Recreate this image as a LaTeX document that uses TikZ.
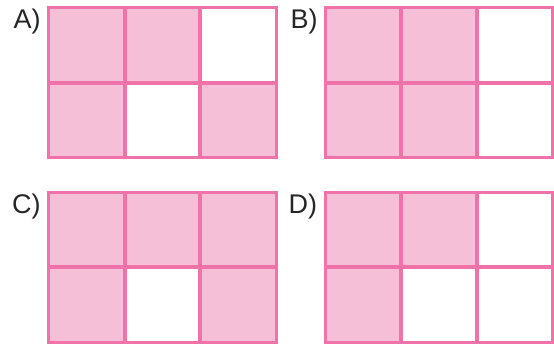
\documentclass[tikz,border=0pt]{standalone}
\usepackage{fontspec}
\setmainfont{Liberation Sans}
\definecolor{pinkline}{HTML}{EF72A8}
\definecolor{pinkfill}{HTML}{F6BFD8}
\tikzset{
  cellbox/.style={draw=pinkline, line width=2pt, minimum width=75.5pt, minimum height=74.5pt, inner sep=0pt, anchor=north west},
  pinkcell/.style={cellbox, fill=pinkfill},
  whitecell/.style={cellbox, fill=white},
  lbl/.style={font=\fontsize{27}{27}\selectfont, text=black!85, anchor=base west, inner sep=0pt}
}
\begin{document}
\begin{tikzpicture}[x=1pt,y=-1pt]
\useasboundingbox (0,0) rectangle (554,343);
\fill[white] (0,0) rectangle (554,343);
\foreach \g/\ox/\oy/\pat in {A/48/7/{1,1,0,1,0,1}, B/324.5/7/{1,1,0,1,1,0}, C/48/191.5/{1,1,1,1,0,1}, D/324.5/191.5/{1,1,0,1,0,0}}{
  \foreach \v [count=\i from 0] in \pat {
    \pgfmathtruncatemacro{\col}{mod(\i,3)}
    \pgfmathtruncatemacro{\row}{div(\i,3)}
    \ifnum\v=1
      \node[pinkcell] (\g\i) at ({\ox+\col*75.5},{\oy+\row*74.5}) {};
    \else
      \node[whitecell] (\g\i) at ({\ox+\col*75.5},{\oy+\row*74.5}) {};
    \fi
  }
}
\foreach \g in {A,B,C,D}{
  \foreach \i in {0,...,5}{
    \draw[pinkline, line width=2pt] (\g\i.north west) rectangle (\g\i.south east);
  }
}
\node[lbl] (la) at (13.5,28.5) {A)};
\node[lbl] (lb) at (290.5,28.5) {B)};
\node[lbl] (lc) at (12,213) {C)};
\node[lbl] (ld) at (288.5,213) {D)};
\end{tikzpicture}
\end{document}
